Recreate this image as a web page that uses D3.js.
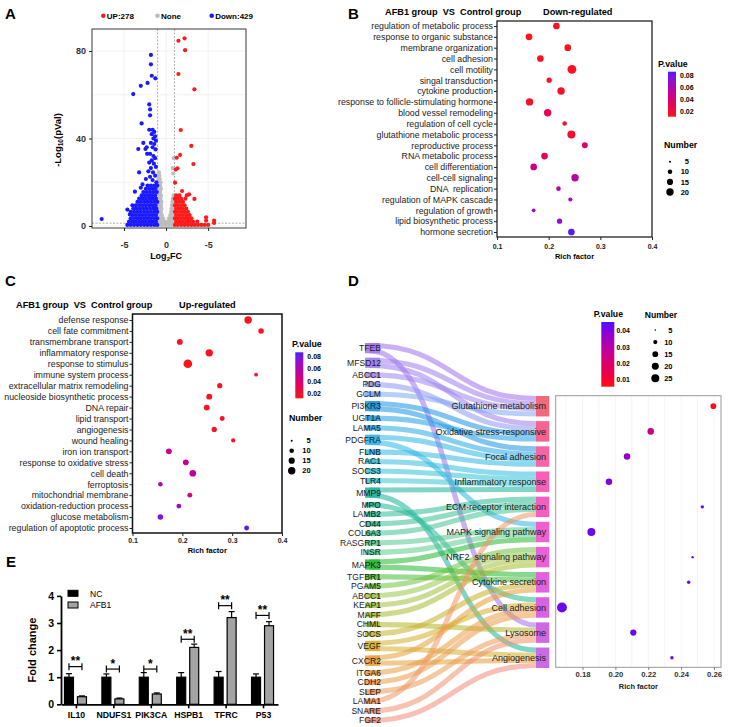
<!DOCTYPE html>
<html>
<head>
<meta charset="utf-8">
<script src="https://cdn.jsdelivr.net/npm/d3@7"></script>
<style>
  body { margin: 0; background: #fff; }
  text { font-family: "Liberation Sans", Arial, Helvetica, sans-serif; }
</style>
</head>
<body>
<div id="chart"></div>
<script>
// ---------------- data ----------------
// A: volcano (log2FC, -log10 p)
const upPoints = [
  [1.47,84.7],[2.2,85.8],[2.26,80.4],[1.47,69.5],[3.37,62.5],[1.75,43.9],[3.0,36.6],[3.25,28.3],[1.67,32.5],[1.27,31.2],
  [1.35,26.4],[1.15,25.8],[1.07,19.8],[2.74,14.5],[3.37,12.4],[4.76,4],[4.76,2.5],[5.71,2.5],[5.71,1.4],[1.9,16],[2.46,14],
  [1.05,0.5],[1.4,0.5],[1.8,0.5],[2.2,0.5],[2.6,0.5],[3.0,0.5],[3.4,0.5],[3.8,0.5],[4.2,0.5],[4.6,0.5],[5.0,0.5],
  [1.2,2],[1.6,2],[2.0,2],[2.4,2],[2.8,2],[3.2,2],[3.7,2],
  [1.05,3.5],[1.4,3.5],[1.8,3.5],[2.2,3.5],[2.6,3.5],[3.0,3.5],
  [1.2,5],[1.6,5],[2.0,5],[2.4,5],[2.8,5],
  [1.05,6.5],[1.4,6.5],[1.8,6.5],[2.2,6.5],[2.6,6.5],
  [1.2,8],[1.6,8],[2.0,8],[2.4,8],
  [1.05,9.5],[1.4,9.5],[1.8,9.5],[2.2,9.5],
  [1.2,11],[1.6,11],[2.0,11],
  [1.05,12.5],[1.4,12.5],[1.8,12.5],[2.3,12.5],
  [1.2,14],[1.6,14]
];
const nonePoints = [
  [-0.9,0.5],[-0.6,0.5],[-0.3,0.5],[0,0.5],[0.3,0.5],[0.6,0.5],[0.9,0.5],
  [-0.85,2],[-0.5,2],[-0.2,2],[0.2,2],[0.5,2],[0.85,2],
  [-0.9,3.5],[-0.6,3.5],[-0.35,3.5],[0.35,3.5],[0.6,3.5],[0.9,3.5],
  [-0.8,5],[-0.5,5],[0.5,5],[0.8,5],
  [-0.9,6.5],[-0.6,6.5],[0.6,6.5],[0.9,6.5],
  [-0.8,8],[-0.55,8],[0.65,8],[0.9,8],
  [-0.9,9.5],[-0.6,9.5],[0.7,9.5],[0.95,9.5],
  [-0.8,11],[-0.55,11],[0.75,11],[0.95,11],
  [-0.9,12.5],[-0.65,12.5],[0.8,12.5],
  [-0.8,14],[-0.6,14],[0.9,14],
  [-0.9,15.5],[-0.7,15.5],[-0.8,17],[-0.6,17],[-0.9,18.5],[-0.7,18.5],
  [-0.85,20],[-0.65,20],[-0.9,21.5],[-0.75,21.5],[-0.8,23],[-0.85,24.5],
  [0.8,26.5],[0.92,31],[0.85,24]
];
const downPoints = [
  [-7.65,3.2],[-3.9,60.3],[-3.0,64.1],[-2.2,65.4],[-1.7,68.7],[-1.27,67.5],[-1.8,73.9],[-1.8,78.2],[-2.0,55.6],[-1.9,53.3],
  [-1.9,50.6],[-2.9,46.9],[-3.3,35.2],[-2.45,35.2],[-3.2,24.5],[-3.7,15.7],[-4.3,5.3],[-4.6,7.5],[-4.0,9.5],[-2.7,38],[-2.0,44],
  [-1.6,44],[-1.4,43],[-1.7,42],[-1.3,41],[-1.5,40],[-1.2,39],[-1.8,38],[-1.4,37.5],[-1.6,36],[-1.25,35],
  [-2.3,36],[-2.25,33],[-1.9,33],[-1.5,32],[-1.3,31],[-1.7,30],[-2.0,29],[-1.45,28.5],[-1.2,27],[-1.8,26.5],
  [-2.1,25],[-1.55,24.5],[-1.3,23],[-1.9,22.5],[-2.4,21.5],[-1.6,21],[-1.15,20],[-2.8,19],[-3.0,17.5],
  [-4.6,0.5],[-4.2,0.5],[-3.8,0.5],[-3.4,0.5],[-3.0,0.5],[-2.6,0.5],[-2.2,0.5],[-1.8,0.5],[-1.4,0.5],[-1.05,0.5],
  [-4.4,2],[-4.0,2],[-3.6,2],[-3.2,2],[-2.8,2],[-2.4,2],[-2.0,2],[-1.6,2],[-1.2,2],
  [-4.2,3.5],[-3.8,3.5],[-3.4,3.5],[-3.0,3.5],[-2.6,3.5],[-2.2,3.5],[-1.8,3.5],[-1.4,3.5],[-1.05,3.5],
  [-4.0,5],[-3.6,5],[-3.2,5],[-2.8,5],[-2.4,5],[-2.0,5],[-1.6,5],[-1.2,5],
  [-4.2,6.5],[-3.8,6.5],[-3.4,6.5],[-3.0,6.5],[-2.6,6.5],[-2.2,6.5],[-1.8,6.5],[-1.4,6.5],[-1.05,6.5],
  [-3.9,8],[-3.5,8],[-3.1,8],[-2.7,8],[-2.3,8],[-1.9,8],[-1.5,8],[-1.15,8],
  [-3.6,9.5],[-3.2,9.5],[-2.8,9.5],[-2.4,9.5],[-2.0,9.5],[-1.6,9.5],[-1.25,9.5],
  [-3.4,11],[-3.0,11],[-2.6,11],[-2.2,11],[-1.8,11],[-1.4,11],[-1.05,11],
  [-3.2,12.5],[-2.8,12.5],[-2.4,12.5],[-2.0,12.5],[-1.6,12.5],[-1.2,12.5],
  [-2.9,14],[-2.5,14],[-2.1,14],[-1.7,14],[-1.3,14],
  [-2.7,15.5],[-2.3,15.5],[-1.9,15.5],[-1.5,15.5],[-1.1,15.5],
  [-2.4,17],[-2.0,17],[-1.6,17],[-1.25,17],
  [-2.2,18.5],[-1.8,18.5],[-1.4,18.5],[-1.05,18.5]
];
const volcanoLegend = ['UP:278', 'None', 'Down:429'];
const volcanoColors = ['#ff1a1a', '#bdbdbd', '#1a1aff'];
const volcanoXTicks = [-5, 0, 5];
const volcanoXTickLabels = ['-5', '0', '-5'];
const volcanoYTicks = [0, 40, 80];

// B: down-regulated GO terms
const downTerms = ['regulation of metabolic process', 'response to organic substance', 'membrane organization', 'cell adhesion',
  'cell motility', 'singal transduction', 'cytokine production', 'response to follicle-stimulating hormone',
  'blood vessel remodeling', 'regulation of cell cycle', 'glutathione metabolic process', 'reproductive process',
  'RNA metabolic process', 'cell differentiation', 'cell-cell signaling', 'DNA  replication',
  'regulation of MAPK cascade', 'regulation of growth', 'lipid biosynthetic process', 'hormone secretion'];
const downRich = [0.215, 0.162, 0.237, 0.184, 0.245, 0.201, 0.224, 0.163, 0.198, 0.231,
  0.244, 0.270, 0.192, 0.171, 0.251, 0.219, 0.242, 0.171, 0.221, 0.244];
const downP = [0.015, 0.013, 0.014, 0.016, 0.015, 0.017, 0.018, 0.018, 0.03, 0.02,
  0.02, 0.038, 0.035, 0.048, 0.055, 0.062, 0.062, 0.068, 0.072, 0.085];
const downCount = [17, 17, 17, 17, 27, 12, 20, 20, 20, 10, 23, 14, 17, 17, 20, 10, 9, 8, 12, 17];

// C: up-regulated GO terms
const upTerms = ['defense response', 'cell fate commitment', 'transmembrane transport', 'inflammatory response',
  'response to stimulus', 'immune system process', 'extracellular matrix remodeling', 'nucleoside biosynthetic process',
  'DNA repair', 'lipid transport', 'angiogenesis', 'wound healing', 'iron ion transport', 'response to oxidative stress',
  'cell death', 'ferroptosis', 'mitochondrial membrane', 'oxidation-reduction process', 'glucose metabolism',
  'regulation of apoptotic process'];
const upRich = [0.332, 0.358, 0.195, 0.254, 0.211, 0.348, 0.275, 0.254, 0.249, 0.280,
  0.264, 0.302, 0.173, 0.207, 0.221, 0.156, 0.215, 0.193, 0.156, 0.329];
const upP = [0.014, 0.015, 0.016, 0.015, 0.013, 0.017, 0.016, 0.015, 0.016, 0.017,
  0.016, 0.018, 0.05, 0.05, 0.055, 0.06, 0.038, 0.068, 0.075, 0.085];
const upCount = [20, 13, 14, 20, 26, 8, 12, 14, 14, 11, 12, 9, 14, 14, 17, 10, 11, 11, 13, 11];

const pTicksBC = [0.02, 0.04, 0.06, 0.08];
const sizeTicksBC = [5, 10, 15, 20];
const richTicksBC = [0.1, 0.2, 0.3, 0.4];

// D: gene -> pathway sankey + KEGG dots
const genesD = ['TFEB', 'MFSD12', 'ABCC1', 'PDG', 'GCLM', 'PI3KR3', 'UGT1A', 'LAMA5', 'PDGFRA', 'FLNB', 'RAC1', 'SOCS3',
  'TLR4', 'MMP9', 'MPO', 'LAMB2', 'CD44', 'COL6A3', 'RASGRP1', 'INSR', 'MAPK3', 'TGFBR1', 'PGAM5', 'ABCC1', 'KEAP1',
  'MAFF', 'CHML', 'SOCS', 'VEGF', 'CXCR2', 'ITGA6', 'CDH2', 'SLEP', 'LAMA1', 'SNARE', 'FGF2'];
const pathwaysD = ['Glutathione metabolism', 'Oxidative stress-responsive', 'Focal adhesion', 'Inflammatory response',
  'ECM-receptor interaction', 'MAPK signaling pathway', 'NRF2  signaling pathway', 'Cytokine secretion',
  'Cell adhesion', 'Lysosome', 'Angiogenesis'];
// pathway index for each gene (same order as genesD)
const geneTargets = [[0, 9], [0, 1], [0], [1], [0], [1, 2], [1], [2], [2, 5], [2], [3], [3],
  [3], [3, 10], [8], [4], [4], [4], [5], [5], [5, 7], [7], [6], [6], [6],
  [6], [9], [7], [8, 10], [7, 10], [8], [8], [9], [4], [9], [10]];
const pathRich = [0.2596, 0.2215, 0.2071, 0.1961, 0.2529, 0.1854, 0.247, 0.2446, 0.1675, 0.2109, 0.2344];
const pathP = [0.008, 0.024, 0.037, 0.041, 0.043, 0.043, 0.044, 0.043, 0.043, 0.043, 0.044];
const pathCount = [15, 18, 18, 18, 8, 25, 6, 8, 36, 17, 8];
const pTicksD = [0.01, 0.02, 0.03, 0.04];
const sizeTicksD = [5, 10, 15, 20, 25];
const richTicksD = [0.18, 0.20, 0.22, 0.24, 0.26];

// E: qPCR fold change
const foldGenes = ['IL10', 'NDUFS1', 'PIK3CA', 'HSPB1', 'TFRC', 'P53'];
const ncMean = [1, 1, 1, 1, 1, 1];
const ncErr = [0.13, 0.12, 0.17, 0.17, 0.21, 0.12];
const afbMean = [0.28, 0.2, 0.38, 2.1, 3.2, 2.9];
const afbErr = [0.03, 0.03, 0.04, 0.12, 0.22, 0.15];
const sigMarks = ['**', '*', '*', '**', '**', '**'];
const sigLevel = [1.39, 1.30, 1.30, 2.40, 3.64, 3.28];
const groupsE = ['NC', 'AFB1'];

// ---------------- drawing ----------------
const W = 733, H = 727;
const svg = d3.select('#chart').append('svg')
  .attr('width', W).attr('height', H).attr('viewBox', `0 0 ${W} ${H}`);
svg.append('rect').attr('width', W).attr('height', H).attr('fill', '#fff');
const defs = svg.append('defs');

[['A', 5, 19], ['B', 348, 19], ['C', 5, 286], ['D', 348, 286], ['E', 6, 567]].forEach(([t, x, y]) => {
  svg.append('text').attr('x', x).attr('y', y).attr('font-size', 15).attr('font-weight', 'bold').text(t);
});

function styleTicks(g, size, bold, fill) {
  g.selectAll('text').attr('font-size', size).attr('font-weight', bold ? 'bold' : 'normal').attr('fill', fill || '#1a1a1a');
  g.selectAll('line').attr('stroke', '#222');
}

// ---- A ----
(function drawVolcano() {
  const left = 92, right = 246, top = 29, bottom = 228;
  const x = d3.scaleLinear().domain([-8.8, 9.5]).range([left, right]);
  const y = d3.scaleLinear().domain([-0.91, 90.06]).range([bottom, top]);
  const g = svg.append('g');

  g.selectAll('.gx').data(volcanoXTicks).join('line')
    .attr('x1', d => x(d)).attr('x2', d => x(d)).attr('y1', top).attr('y2', bottom)
    .attr('stroke', '#ececec').attr('stroke-width', 0.7);
  g.selectAll('.gy').data([0, 20, 40, 60, 80]).join('line')
    .attr('x1', left).attr('x2', right).attr('y1', d => y(d)).attr('y2', d => y(d))
    .attr('stroke', '#ececec').attr('stroke-width', 0.7);

  g.selectAll('.vt').data([-1, 1]).join('line')
    .attr('x1', d => x(d)).attr('x2', d => x(d)).attr('y1', top).attr('y2', bottom)
    .attr('stroke', '#8a8a8a').attr('stroke-width', 0.7).attr('stroke-dasharray', '2,1.5');
  g.append('line').attr('x1', left).attr('x2', right).attr('y1', y(1.3)).attr('y2', y(1.3))
    .attr('stroke', '#8a8a8a').attr('stroke-width', 0.7).attr('stroke-dasharray', '2,1.5');

  [[nonePoints, volcanoColors[1]], [downPoints, volcanoColors[2]], [upPoints, volcanoColors[0]]].forEach(([pts, c]) => {
    g.append('g').selectAll('circle').data(pts).join('circle')
      .attr('cx', d => x(d[0])).attr('cy', d => y(d[1])).attr('r', 2.1).attr('fill', c);
  });

  g.append('rect').attr('x', left).attr('y', top).attr('width', right - left).attr('height', bottom - top)
    .attr('fill', 'none').attr('stroke', '#3a3a3a').attr('stroke-width', 1);

  const ay = g.append('g').attr('transform', `translate(${left},0)`)
    .call(d3.axisLeft(y).tickValues(volcanoYTicks).tickSize(3).tickPadding(3));
  ay.select('.domain').remove();
  styleTicks(ay, 9, true, '#333');

  const ax = g.append('g').attr('transform', `translate(0,${bottom})`)
    .call(d3.axisBottom(x).tickValues(volcanoXTicks).tickSize(3).tickPadding(3)
      .tickFormat((d, i) => volcanoXTickLabels[i]));
  ax.select('.domain').remove();
  styleTicks(ax, 9, true, '#333');
  ax.selectAll('text').attr('dy', null).attr('y', 20);

  const xl = g.append('text').attr('x', x(0)).attr('y', 259).attr('text-anchor', 'middle')
    .attr('font-size', 9).attr('font-weight', 'bold');
  xl.append('tspan').text('Log');
  xl.append('tspan').attr('font-size', 6).attr('dy', 2).text('2');
  xl.append('tspan').attr('dy', -2).text('FC');

  const yl = g.append('text').attr('transform', 'translate(61,140) rotate(-90)').attr('text-anchor', 'middle')
    .attr('font-size', 9.5).attr('font-weight', 'bold');
  yl.append('tspan').text('-Log');
  yl.append('tspan').attr('font-size', 6.5).attr('dy', 2).text('10');
  yl.append('tspan').attr('dy', -2).text('(pVal)');

  const lx = d3.scalePoint().domain(volcanoLegend).range([103.3, 211.7]);
  const lg = g.append('g').selectAll('g').data(volcanoLegend).join('g')
    .attr('transform', d => `translate(${lx(d)},15.7)`);
  lg.append('circle').attr('r', 2.3).attr('fill', (d, i) => volcanoColors[i]);
  lg.append('text').attr('x', 3.5).attr('y', 3).attr('font-size', 8).attr('font-weight', 'bold').text(d => d);
})();

// ---- B & C ----
function gradientFor(id, color, lo, hi) {
  const grad = defs.append('linearGradient').attr('id', id).attr('x1', 0).attr('y1', 1).attr('x2', 0).attr('y2', 0);
  d3.range(0, 1.0001, 0.1).forEach(t => {
    grad.append('stop').attr('offset', t).attr('stop-color', color(lo + t * (hi - lo)));
  });
}

const colorBC = d3.scaleLinear().domain([0.012, 0.087]).range(['#ff1414', '#4a1cff']).interpolate(d3.interpolateLab);
const sizeBC = d3.scaleRadial().domain([5, 20]).range([1, 3.7]);
gradientFor('gradBC', colorBC, 0.012, 0.087);

function drawEnrichment(cfg) {
  const g = svg.append('g');
  const y = d3.scalePoint().domain(cfg.terms).range([cfg.yFirst, cfg.yLast]);
  const x = d3.scaleLinear().domain([0.1, 0.4]).range([cfg.left, cfg.right]);

  g.append('text').attr('x', cfg.titleX).attr('y', cfg.titleY).attr('font-size', 9.2).attr('font-weight', 'bold')
    .style('white-space', 'pre').text('AFB1 group  VS  Control group');
  g.append('text').attr('x', cfg.subX).attr('y', cfg.titleY).attr('font-size', 9.2).attr('font-weight', 'bold')
    .text(cfg.subtitle);

  g.append('rect').attr('x', cfg.left).attr('y', cfg.top).attr('width', cfg.right - cfg.left)
    .attr('height', cfg.bottom - cfg.top).attr('fill', 'none').attr('stroke', '#111').attr('stroke-width', cfg.frameW);

  g.selectAll('circle.dot').data(cfg.terms).join('circle').attr('class', 'dot')
    .attr('cx', (d, i) => x(cfg.rich[i])).attr('cy', d => y(d))
    .attr('r', (d, i) => sizeBC(cfg.count[i])).attr('fill', (d, i) => colorBC(cfg.pv[i]));

  const ay = g.append('g').attr('transform', `translate(${cfg.left},0)`)
    .call(d3.axisLeft(y).tickSize(3).tickPadding(1));
  ay.select('.domain').remove();
  styleTicks(ay, 8.8, false, '#1a1a1a');
  ay.selectAll('text').style('white-space', 'pre');

  const ax = g.append('g').attr('transform', `translate(0,${cfg.bottom})`)
    .call(d3.axisBottom(x).tickValues(richTicksBC).tickSize(3).tickFormat(d3.format('.1f')));
  ax.select('.domain').remove();
  styleTicks(ax, 7, true, '#1a1a1a');
  ax.selectAll('text').attr('dy', null).attr('y', cfg.tickLabelDy);

  g.append('text').attr('x', (cfg.left + cfg.right) / 2).attr('y', cfg.bottom + cfg.richDy)
    .attr('text-anchor', 'middle').attr('font-size', 7.5).attr('font-weight', 'bold').text('Rich factor');

  // colour legend
  const L = cfg.legend;
  g.append('text').attr('x', L.titleX).attr('y', L.pTitleY).attr('font-size', 8.8).attr('font-weight', 'bold').text('P.value');
  g.append('rect').attr('x', L.barX).attr('y', L.barTop).attr('width', 8).attr('height', L.barBottom - L.barTop)
    .attr('fill', 'url(#gradBC)');
  const ly = d3.scaleLinear().domain([0.012, 0.087]).range([L.barBottom, L.barTop]);
  g.selectAll('text.pl').data(pTicksBC).join('text').attr('class', 'pl')
    .attr('x', L.barX + 12).attr('y', d => ly(d)).attr('dy', '0.35em')
    .attr('font-size', 7).attr('font-weight', 'bold').text(d => d.toFixed(2));

  g.append('text').attr('x', L.numX).attr('y', L.numTitleY).attr('font-size', 8.8).attr('font-weight', 'bold').text('Number');
  const sy = d3.scalePoint().domain(sizeTicksBC).range([L.numTop, L.numBottom]);
  g.selectAll('circle.sl').data(sizeTicksBC).join('circle').attr('class', 'sl')
    .attr('cx', L.dotX).attr('cy', d => sy(d)).attr('r', d => sizeBC(d)).attr('fill', '#000');
  g.selectAll('text.sl').data(sizeTicksBC).join('text').attr('class', 'sl')
    .attr('x', L.dotX + 19).attr('y', d => sy(d)).attr('dy', '0.35em').attr('text-anchor', 'end')
    .attr('font-size', 7.5).attr('font-weight', 'bold').text(d => d);
}

drawEnrichment({
  terms: downTerms, rich: downRich, pv: downP, count: downCount,
  left: 497, right: 652, top: 21, bottom: 237, yFirst: 26, yLast: 232, frameW: 1.2,
  titleX: 385, subX: 543, titleY: 15, subtitle: 'Down-regulated', tickLabelDy: 11.5, richDy: 22,
  legend: { titleX: 658, pTitleY: 67, barX: 668, barTop: 71.7, barBottom: 116.7,
    numX: 664, numTitleY: 148, dotX: 670, numTop: 161.7, numBottom: 192 }
});
drawEnrichment({
  terms: upTerms, rich: upRich, pv: upP, count: upCount,
  left: 132.5, right: 282, top: 314, bottom: 533, yFirst: 320, yLast: 528, frameW: 1.5,
  titleX: 16, subX: 179, titleY: 308, subtitle: 'Up-regulated', tickLabelDy: 10, richDy: 19.5,
  legend: { titleX: 292, pTitleY: 347, barX: 295.3, barTop: 352.3, barBottom: 398.3,
    numX: 289, numTitleY: 421, dotX: 291.7, numTop: 440.7, numBottom: 470.7 }
});

// ---- D ----
(function drawSankey() {
  const g = svg.append('g');
  const geneX0 = 365, geneX1 = 380, pathX0 = 536, pathX1 = 549.3;
  const pathTop = 396, pathBottom = 668, pathGap = 4.7, geneTop = 343, geneBottom = 723;
  const nLinks = d3.sum(geneTargets, t => t.length);
  const unit = (pathBottom - pathTop - pathGap * (pathwaysD.length - 1)) / nLinks;
  const geneGap = (geneBottom - geneTop - nLinks * unit) / (genesD.length - 1);

  const geneColor = d3.scaleLinear()
    .domain([0, 2, 4, 5, 8, 12, 13, 19, 20, 23, 26, 28, 29, 32, 35])
    .range(['#a070ee', '#9c86f0', '#80a8f4', '#1a94e4', '#2cb4e6', '#34c6d2', '#14b29a', '#5ccc8c',
      '#22b82e', '#96c848', '#b4b424', '#d6ae2a', '#e49e36', '#ef9a56', '#f38a7c']);
  const pathColors = ['#f2687e', '#f5638f', '#f663a6', '#f85fb5', '#f65fc2', '#ef5fd0', '#ea60d8',
    '#e261dc', '#d962e0', '#cf66e2', '#c76be6'];

  let yy = geneTop;
  const geneNodes = genesD.map((name, i) => {
    const h = geneTargets[i].length * unit;
    const n = { name, i, y0: yy, y1: yy + h };
    yy += h + geneGap;
    return n;
  });
  const pathCounts = pathwaysD.map((p, j) => d3.sum(geneTargets, t => t.filter(v => v === j).length));
  yy = pathTop;
  const pathNodes = pathwaysD.map((name, j) => {
    const h = pathCounts[j] * unit;
    const n = { name, j, y0: yy, y1: yy + h };
    yy += h + pathGap;
    return n;
  });

  const links = [];
  geneTargets.forEach((t, i) => {
    t.slice().sort((a, b) => a - b).forEach((j, k) => links.push({ s: i, t: j, sy: geneNodes[i].y0 + k * unit }));
  });
  pathNodes.forEach((p, j) => {
    links.filter(l => l.t === j).forEach((l, m) => { l.ty = p.y0 + m * unit; });
  });

  const linkGen = d3.linkHorizontal()
    .source(d => [geneX0 + 4, d.sy + unit / 2])
    .target(d => [pathX0, d.ty + unit / 2]);
  g.append('g').selectAll('path').data(links).join('path')
    .attr('d', linkGen).attr('fill', 'none')
    .attr('stroke', d => geneColor(d.s)).attr('stroke-width', unit).attr('stroke-opacity', 0.55);

  g.append('g').selectAll('rect').data(geneNodes).join('rect')
    .attr('x', geneX0).attr('y', d => d.y0).attr('width', geneX1 - geneX0).attr('height', d => d.y1 - d.y0)
    .attr('fill', d => geneColor(d.i)).attr('fill-opacity', 0.85);
  g.append('g').selectAll('rect').data(pathNodes).join('rect')
    .attr('x', pathX0).attr('y', d => d.y0).attr('width', pathX1 - pathX0).attr('height', d => d.y1 - d.y0)
    .attr('fill', (d, j) => pathColors[j]);

  g.append('g').selectAll('text').data(geneNodes).join('text')
    .attr('x', geneX1 + 1).attr('y', d => (d.y0 + d.y1) / 2).attr('dy', '0.35em').attr('text-anchor', 'end')
    .attr('font-size', 8.6).attr('fill', '#1a1a1a').text(d => d.name);
  g.append('g').selectAll('text').data(pathNodes).join('text')
    .attr('x', 546).attr('y', d => (d.y0 + d.y1) / 2).attr('dy', '0.35em').attr('text-anchor', 'end')
    .attr('font-size', 9).attr('fill', '#1a1a1a').style('white-space', 'pre').text(d => d.name);

  // dot plot on the right
  const left = 555.7, right = 721, top = 395.7, bottom = 667.3;
  const x = d3.scaleLinear().domain([0.18, 0.26]).range([582.5, 714]);
  const y = d3.scaleOrdinal().domain(pathwaysD).range(pathNodes.map(n => (n.y0 + n.y1) / 2));
  const colorD = d3.scaleLinear().domain([0.0058, 0.0455]).range(['#ff1010', '#4a10ff']).interpolate(d3.interpolateLab);
  const sizeD = d3.scaleRadial().domain([5, 25]).range([0.8, 4]);

  g.selectAll('line.grid').data(d3.range(0.17, 0.2651, 0.01)).join('line').attr('class', 'grid')
    .attr('x1', d => x(d)).attr('x2', d => x(d)).attr('y1', top).attr('y2', bottom)
    .attr('stroke', '#f0f0f0').attr('stroke-width', 0.7);
  g.append('rect').attr('x', left).attr('y', top).attr('width', right - left).attr('height', bottom - top)
    .attr('fill', 'none').attr('stroke', '#9a9a9a').attr('stroke-width', 1);
  g.selectAll('circle.kd').data(pathwaysD).join('circle').attr('class', 'kd')
    .attr('cx', (d, i) => x(pathRich[i])).attr('cy', d => y(d))
    .attr('r', (d, i) => sizeD(pathCount[i])).attr('fill', (d, i) => colorD(pathP[i]));

  const ax = g.append('g').attr('transform', `translate(0,${bottom})`)
    .call(d3.axisBottom(x).tickValues(richTicksD).tickSize(2.5).tickFormat(d3.format('.2f')));
  ax.select('.domain').remove();
  styleTicks(ax, 7.7, true, '#333');
  ax.selectAll('line').attr('stroke', '#777');
  ax.selectAll('text').attr('dy', null).attr('y', 9.5);
  g.append('text').attr('x', (left + right) / 2).attr('y', 688.5).attr('text-anchor', 'middle')
    .attr('font-size', 7.5).attr('font-weight', 'bold').attr('fill', '#222').text('Rich factor');

  // legends
  gradientFor('gradD', colorD, 0.0058, 0.0455);
  g.append('text').attr('x', 593.7).attr('y', 316.5).attr('font-size', 8.7).attr('font-weight', 'bold').text('P.value');
  g.append('rect').attr('x', 601.3).attr('y', 322).attr('width', 13).attr('height', 64.7).attr('fill', 'url(#gradD)');
  const ly = d3.scaleLinear().domain([0.0058, 0.0455]).range([386.7, 322]);
  g.selectAll('text.pd').data(pTicksD).join('text').attr('class', 'pd')
    .attr('x', 616.5).attr('y', d => ly(d)).attr('dy', '0.35em')
    .attr('font-size', 6.8).attr('font-weight', 'bold').text(d => d.toFixed(2));
  g.append('text').attr('x', 644.7).attr('y', 318).attr('font-size', 8.6).attr('font-weight', 'bold').text('Number');
  const sy = d3.scalePoint().domain(sizeTicksD).range([330, 378.3]);
  g.selectAll('circle.sd').data(sizeTicksD).join('circle').attr('class', 'sd')
    .attr('cx', 655.3).attr('cy', d => sy(d)).attr('r', d => sizeD(d)).attr('fill', '#000');
  g.selectAll('text.sd').data(sizeTicksD).join('text').attr('class', 'sd')
    .attr('x', 672.5).attr('y', d => sy(d)).attr('dy', '0.35em').attr('text-anchor', 'end')
    .attr('font-size', 7.5).attr('font-weight', 'bold').text(d => d);
})();

// ---- E ----
(function drawBars() {
  const g = svg.append('g');
  const x = d3.scalePoint().domain(foldGenes).range([61, 278]).padding(0.4);
  const sub = d3.scaleBand().domain(groupsE).range([-11.5, 10.5]).paddingInner(4 / 13);
  const y = d3.scaleLinear().domain([0, 4]).range([704.3, 595.9]);
  const rows = foldGenes.map((gene, i) => [
    { gene, grp: 'NC', v: ncMean[i], e: ncErr[i] },
    { gene, grp: 'AFB1', v: afbMean[i], e: afbErr[i] }
  ]).flat();

  g.selectAll('rect.bar').data(rows).join('rect').attr('class', 'bar')
    .attr('x', d => x(d.gene) + sub(d.grp)).attr('y', d => y(d.v))
    .attr('width', sub.bandwidth()).attr('height', d => y(0) - y(d.v))
    .attr('fill', d => d.grp === 'NC' ? '#000' : '#a3a3a3')
    .attr('stroke', '#000').attr('stroke-width', 1.2);

  const cx = d => x(d.gene) + sub(d.grp) + sub.bandwidth() / 2;
  g.selectAll('line.err').data(rows).join('line').attr('class', 'err')
    .attr('x1', cx).attr('x2', cx).attr('y1', d => y(d.v)).attr('y2', d => y(d.v + d.e))
    .attr('stroke', '#000').attr('stroke-width', 1.2);
  g.selectAll('line.cap').data(rows).join('line').attr('class', 'cap')
    .attr('x1', d => cx(d) - 3).attr('x2', d => cx(d) + 3).attr('y1', d => y(d.v + d.e)).attr('y2', d => y(d.v + d.e))
    .attr('stroke', '#000').attr('stroke-width', 1.2);

  // significance brackets
  const bx0 = gene => x(gene) + sub('NC') + sub.bandwidth() / 2;
  const bx1 = gene => x(gene) + sub('AFB1') + sub.bandwidth() / 2;
  const br = g.selectAll('g.br').data(foldGenes).join('g').attr('class', 'br');
  br.append('line').attr('x1', d => bx0(d)).attr('x2', d => bx1(d))
    .attr('y1', (d, i) => y(sigLevel[i])).attr('y2', (d, i) => y(sigLevel[i])).attr('stroke', '#000').attr('stroke-width', 1.2);
  br.append('line').attr('x1', d => bx0(d)).attr('x2', d => bx0(d))
    .attr('y1', (d, i) => y(sigLevel[i]) - 3.5).attr('y2', (d, i) => y(sigLevel[i]) + 3.5).attr('stroke', '#000').attr('stroke-width', 1.2);
  br.append('line').attr('x1', d => bx1(d)).attr('x2', d => bx1(d))
    .attr('y1', (d, i) => y(sigLevel[i]) - 3.5).attr('y2', (d, i) => y(sigLevel[i]) + 3.5).attr('stroke', '#000').attr('stroke-width', 1.2);
  br.append('text').attr('x', d => (bx0(d) + bx1(d)) / 2).attr('y', (d, i) => y(sigLevel[i]) - 1.5)
    .attr('text-anchor', 'middle').attr('font-size', 12).attr('font-weight', 'bold').text((d, i) => sigMarks[i]);

  const ay = g.append('g').attr('transform', 'translate(61,0)')
    .call(d3.axisLeft(y).ticks(4).tickSize(4).tickSizeOuter(0).tickPadding(3));
  ay.select('.domain').attr('stroke', '#000').attr('stroke-width', 1.8);
  ay.selectAll('line').attr('stroke', '#000').attr('stroke-width', 1.6);
  ay.selectAll('text').attr('font-size', 10.5).attr('font-weight', 'bold').attr('fill', '#000');

  const ax = g.append('g').attr('transform', 'translate(0,704.3)')
    .call(d3.axisBottom(x).tickSize(4).tickSizeOuter(0).tickPadding(4));
  ax.select('.domain').attr('stroke', '#000').attr('stroke-width', 1.8);
  ax.selectAll('line').attr('stroke', '#000').attr('stroke-width', 1.6);
  ax.selectAll('text').attr('font-size', 8.7).attr('font-weight', 'bold').attr('fill', '#000');

  g.append('text').attr('transform', 'translate(36,650) rotate(-90)').attr('text-anchor', 'middle')
    .attr('font-size', 11).attr('font-weight', 'bold').text('Fold change');

  const lg = g.selectAll('g.lg').data(groupsE).join('g').attr('class', 'lg')
    .attr('transform', (d, i) => `translate(68,${593.3 + i * 11.7})`);
  lg.append('rect').attr('x', 0).attr('y', -3).attr('width', 10).attr('height', 6)
    .attr('fill', d => d === 'NC' ? '#000' : '#a3a3a3').attr('stroke', '#000').attr('stroke-width', 1);
  lg.append('text').attr('x', 22).attr('y', 3.2).attr('font-size', 8.5).text(d => d);
})();
</script>
</body>
</html>
